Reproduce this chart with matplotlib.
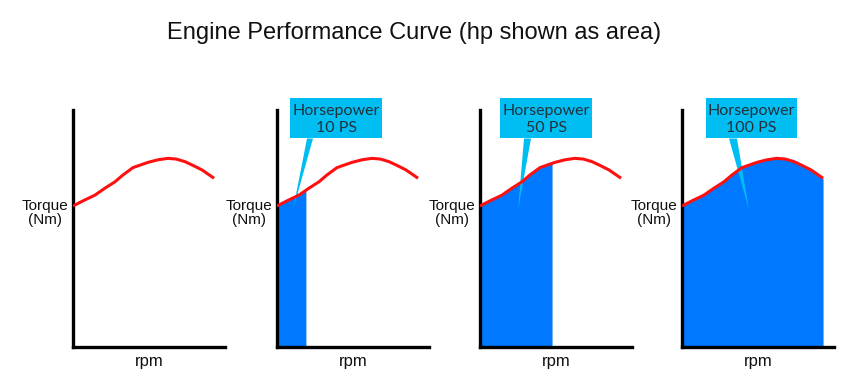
import numpy as np
import matplotlib
matplotlib.use("Agg")
import matplotlib.pyplot as plt
from matplotlib.patches import Rectangle, Polygon

# ---- data ----
rpm = [0, 7, 14.5, 21, 27.6, 32.9, 39.5, 49.3, 56, 62.5, 68, 73.7, 79, 84.9, 92.8]
torque = [59.5, 61.8, 64.1, 67.0, 69.7, 72.6, 75.7, 77.9, 79.0, 79.6, 79.3, 78.2, 76.6, 74.7, 71.2]
hp_limits = [0, 19.0, 47.4, 92.8]          # rpm up to which the area is filled
hp_labels = ["", "Horsepower\n10 PS", "Horsepower\n50 PS", "Horsepower\n100 PS"]
title = "Engine Performance Curve (hp shown as area)"
ylabel = "Torque\n(Nm)"
xlabel = "rpm"

# ---- layout (pixels) ----
W, H = 856, 392
panel_x0 = [73, 277, 480, 682]
panel_w, y_bottom, y_top = 152, 347, 110
box_lr = [None, (290, 382), (500, 592), (706, 797)]
box_tb = (98, 138)
ptr_base = [None, (307, 313), (524, 531), (729, 737)]
ptr_tip = [None, (293, 210), (518, 210), (749, 210)]

RED = "#ff1010"
BLUE = "#0078ff"
CYAN = "#00bdf2"

fig = plt.figure(figsize=(W / 100, H / 100), dpi=100)
fig.text(414 / W, 1 - 33 / H, title, ha="center", va="center",
         fontsize=17, family="Liberation Sans", color="#111111")

def px2d(x0, px, py):
    return (px - x0) / panel_w * 100, (y_bottom - py) / (y_bottom - y_top) * 100

xs = np.array(rpm)
ys = np.array(torque)

for i, x0 in enumerate(panel_x0):
    ax = fig.add_axes([x0 / W, (H - y_bottom) / H, panel_w / W, (y_bottom - y_top) / H])
    ax.set_xlim(0, 100)
    ax.set_ylim(0, 100)
    for s in ("top", "right"):
        ax.spines[s].set_visible(False)
    for s in ("left", "bottom"):
        ax.spines[s].set_linewidth(2.4)
        ax.spines[s].set_color("black")
        ax.spines[s].set_capstyle("projecting")
    ax.set_xticks([])
    ax.set_yticks([])
    ax.patch.set_alpha(0)

    lim = hp_limits[i]
    if lim > 0:
        fx = np.concatenate([xs[xs < lim], [lim]])
        fy = np.interp(fx, xs, ys)
        ax.fill_between(fx, 0, fy, color=BLUE, lw=0, zorder=1)
    ax.plot(xs, ys, color=RED, lw=2.2, zorder=3, solid_capstyle="butt")

    ax.text(-2.8, 56.5, ylabel, ha="right", va="center", fontsize=11,
            family="Liberation Sans", linespacing=0.95, color="#111111",
            multialignment="center")
    ax.text(50, -6, xlabel, ha="center", va="center", fontsize=12,
            family="Liberation Sans", color="#111111")

    if hp_labels[i]:
        l, r = box_lr[i]
        t, b = box_tb
        bl = px2d(x0, l, b)
        tr = px2d(x0, r, t)
        ax.add_patch(Rectangle(bl, tr[0] - bl[0], tr[1] - bl[1], facecolor=CYAN,
                               edgecolor="none", clip_on=False, zorder=4))
        p1 = px2d(x0, ptr_base[i][0], b + 0.5)
        p2 = px2d(x0, ptr_base[i][1], b + 0.5)
        tip = px2d(x0, *ptr_tip[i])
        ax.add_patch(Polygon([p1, p2, tip], closed=True, facecolor=CYAN,
                             edgecolor="none", clip_on=False, zorder=2))
        ax.text((bl[0] + tr[0]) / 2, (bl[1] + tr[1]) / 2 - 0.5, hp_labels[i],
                ha="center", va="center", fontsize=11.5, family="Lato",
                color="#22313a", linespacing=1.3, zorder=5)

fig.savefig("out.png", dpi=100)
